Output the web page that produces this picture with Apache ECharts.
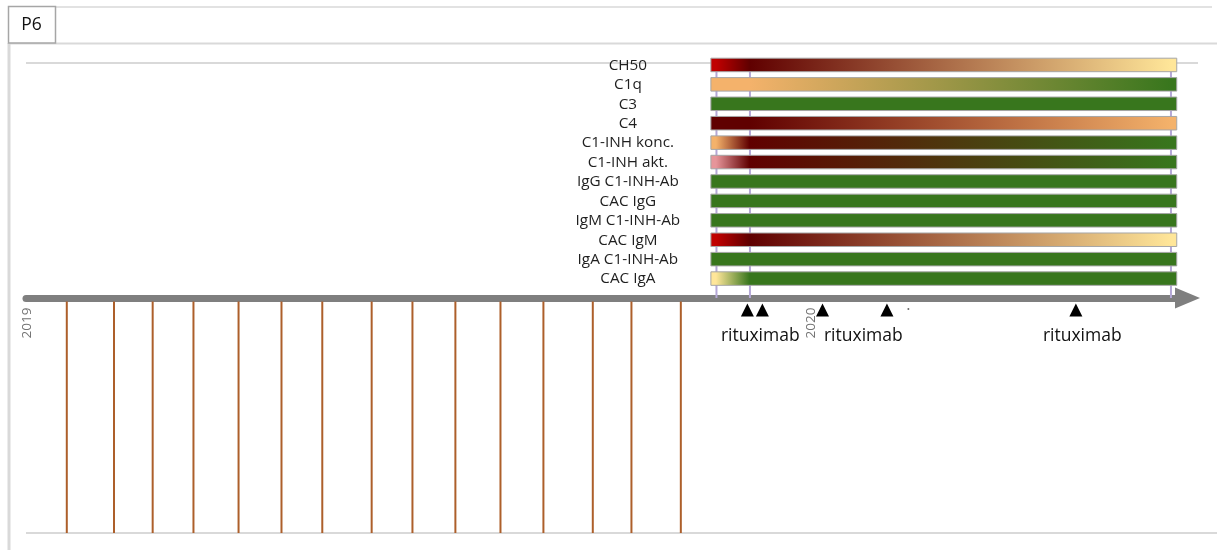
<!DOCTYPE html>
<html><head><meta charset="utf-8">
<script src="https://cdn.jsdelivr.net/npm/echarts@6/dist/echarts.min.js"></script>
<style>html,body{margin:0;padding:0;background:#fff}#c{width:1217px;height:550px}</style>
</head><body><div id="c"></div>
<script>
// ---- data (days since 2019-01-01) ----
const rowLabels = ['CH50','C1q','C3','C4','C1-INH konc.','C1-INH akt.','IgG C1-INH-Ab','CAC IgG','IgM C1-INH-Ab','CAC IgM','IgA C1-INH-Ab','CAC IgA'];
const barStartDay = 319;
const barEndDay = 536;
const sampleDays = [321.6, 337.2, 533.3];
const rowStatus = [
  ['red','darkred','yellow'],
  ['orange','orange','green'],
  ['green','green','green'],
  ['darkred','darkred','orange'],
  ['orange','darkred','green'],
  ['pink','darkred','green'],
  ['green','green','green'],
  ['green','green','green'],
  ['green','green','green'],
  ['red','darkred','yellow'],
  ['green','green','green'],
  ['yellow','green','green']
];
const visitDays = [19,41,59,78,99,119,138,161,180,200,221,241,264,282,305];
const rituximabDays = [336,343,371,401,489];
const rituximabLabelDays = [342,390,492];
const rituximabLabel = 'rituximab';
const markerDotDays = [411];
const yearDays = [0,365];
const yearLabels = ['2019','2020'];
const tabLabel = 'P6';

// ---- styles ----
const statusColor = {red:'#c00000', darkred:'#600000', orange:'#f4b26b', pink:'#e6959a', yellow:'#ffe699', green:'#38761d'};
const nRows = rowLabels.length;
const FONT = '"Open Sans", "DejaVu Sans", sans-serif';

function gradientFor(i){
  const span = barEndDay - barStartDay;
  const stops = [{offset:0, color: statusColor[rowStatus[i][0]]}];
  sampleDays.forEach((d,k)=>{
    let o = (d - barStartDay)/span; o = Math.max(0, Math.min(1, o));
    stops.push({offset:o, color: statusColor[rowStatus[i][k]]});
  });
  stops.push({offset:1, color: statusColor[rowStatus[i][sampleDays.length-1]]});
  return new echarts.graphic.LinearGradient(0,0,1,0,stops);
}

const chart = echarts.init(document.getElementById('c'), null, {renderer:'canvas'});
const option = {
  animation:false,
  backgroundColor:'#ffffff',
  grid:{left:26, right:29.5, top:63, bottom:17},
  xAxis:{type:'value', min:0, max:541,
    axisLine:{show:true, onZero:true, symbol:['none','triangle'], symbolSize:[21,25],
      lineStyle:{color:'#7f7f7f', width:7}},
    axisTick:{show:false}, axisLabel:{show:false}, splitLine:{show:false}},
  yAxis:{type:'value', min:-12.1, max:12.1, show:false, splitLine:{show:false}},
  graphic:[
    {type:'line', z:0, shape:{x1:55, y1:7, x2:1212, y2:7}, style:{stroke:'#d9d9d9', lineWidth:1.5}},
    {type:'line', z:0, shape:{x1:8, y1:43.5, x2:1217, y2:43.5}, style:{stroke:'#d9d9d9', lineWidth:2}},
    {type:'line', z:0, shape:{x1:9, y1:43, x2:9, y2:550}, style:{stroke:'#d9d9d9', lineWidth:3}},
    {type:'line', z:0, shape:{x1:26, y1:63, x2:1198, y2:63}, style:{stroke:'#d9d9d9', lineWidth:2}},
    {type:'line', z:0, shape:{x1:26, y1:533, x2:1217, y2:533}, style:{stroke:'#d9d9d9', lineWidth:2}},
    {type:'rect', z:1, shape:{x:8.5, y:6.5, width:47, height:36.5}, style:{fill:'#fff', stroke:'#a6a6a6', lineWidth:1.5}},
    {type:'text', z:2, x:31.5, y:25.5, style:{text:tabLabel, align:'center', verticalAlign:'middle', font:'17.5px '+FONT, fill:'#111'}}
  ],
  series:[
    { // sample-date gridlines (behind bars)
      type:'custom', z:1, silent:true,
      data: sampleDays.map(d=>[d]),
      renderItem:(p,api)=>{
        const a = api.coord([api.value(0), 0]);
        const b = api.coord([api.value(0), nRows]);
        return {type:'line', shape:{x1:a[0], y1:a[1], x2:b[0], y2:b[1]}, style:{stroke:'#b4a7d6', lineWidth:2}};
      }
    },
    { // measurement bars + row labels
      type:'custom', z:3, silent:true,
      data: rowLabels.map((l,i)=>[barStartDay, barEndDay, i, nRows - i]),
      renderItem:(p,api)=>{
        const i = api.value(2);
        const p0 = api.coord([api.value(0), api.value(3)]);
        const p1 = api.coord([api.value(1), api.value(3)]);
        const h = 13.5;
        return {type:'group', children:[
          {type:'rect', shape:{x:p0[0], y:p0[1]-h/2, width:p1[0]-p0[0], height:h},
            style:{fill:gradientFor(i), stroke:'#a6a6a6', lineWidth:1}},
          {type:'text', x:p0[0]-83, y:p0[1]+0.5,
            style:{text:rowLabels[i], align:'center', verticalAlign:'middle', font:'15.3px '+FONT, fill:'#1f1f1f'}}
        ]};
      }
    },
    { // visit lines below the axis
      type:'custom', z:2, silent:true,
      data: visitDays.map(d=>[d]),
      renderItem:(p,api)=>{
        const a = api.coord([api.value(0), 0]);
        const b = api.coord([api.value(0), -12.1]);
        return {type:'line', shape:{x1:a[0], y1:a[1]+3.5, x2:b[0], y2:b[1]}, style:{stroke:'#ad5f2a', lineWidth:2}};
      }
    },
    { // year labels
      type:'custom', z:4, silent:true,
      data: yearDays.map((d,i)=>[d,i]),
      renderItem:(p,api)=>{
        const a = api.coord([api.value(0), 0]);
        return {type:'text', x:a[0]+1.5, y:a[1]+25, rotation:Math.PI/2,
          style:{text:yearLabels[api.value(1)], align:'center', verticalAlign:'middle', font:'13.5px '+FONT, fill:'#737373'}};
      }
    },
    { // rituximab triangles
      type:'scatter', z:5, silent:true,
      data: rituximabDays.map(d=>[d,0]),
      symbol:'triangle', symbolSize:[13,13], symbolOffset:[0,12],
      itemStyle:{color:'#000', opacity:1}
    },
    { // tiny dot
      type:'scatter', z:5, silent:true,
      data: markerDotDays.map(d=>[d,0]),
      symbol:'circle', symbolSize:2, symbolOffset:[0,11],
      itemStyle:{color:'#666', opacity:1}
    },
    { // rituximab labels
      type:'custom', z:5, silent:true,
      data: rituximabLabelDays.map(d=>[d]),
      renderItem:(p,api)=>{
        const a = api.coord([api.value(0), 0]);
        return {type:'text', x:a[0], y:a[1]+38,
          style:{text:rituximabLabel, align:'center', verticalAlign:'middle', font:'17.5px '+FONT, fill:'#111'}};
      }
    }
  ]
};
chart.setOption(option);
</script>
</body></html>
